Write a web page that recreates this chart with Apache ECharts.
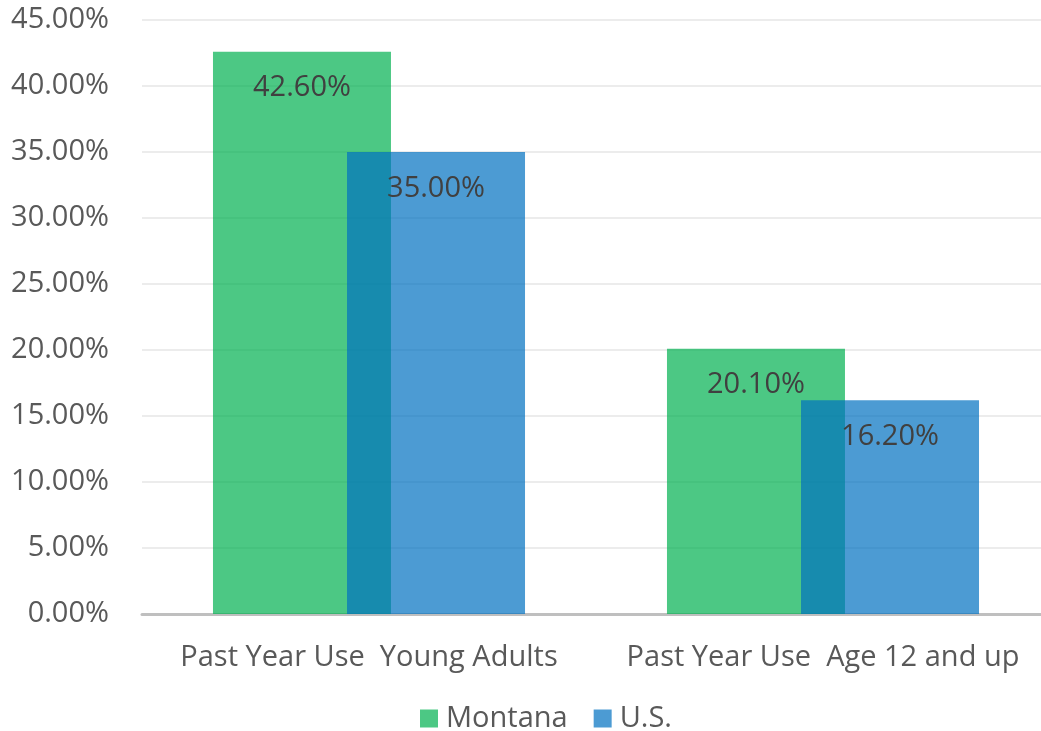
<!DOCTYPE html>
<html>
<head>
<meta charset="utf-8">
<script src="https://cdn.jsdelivr.net/npm/echarts@6/dist/echarts.min.js"></script>
<style>
html,body{margin:0;padding:0;background:#fff;overflow:hidden;}
#wrap{width:1041px;height:731px;overflow:hidden;}
#chart{width:1050px;height:731px;}
</style>
</head>
<body>
<div id="wrap"><div id="chart"></div></div>
<script>
const categories = ['Past Year Use  Young Adults', 'Past Year Use  Age 12 and up'];
const montana = [42.6, 20.1];
const us = [35.0, 16.2];
const seriesNames = ['Montana', 'U.S.'];

const FONT = 'Open Sans';
const FS = 29;
const chart = echarts.init(document.getElementById('chart'), null, {renderer: 'canvas'});
const labelStyle = {
  show: true,
  position: 'insideTop',
  distance: 22,
  color: '#404040',
  fontSize: FS,
  fontFamily: FONT,
  formatter: p => p.value.toFixed(2) + '%'
};
chart.setOption({
  animation: false,
  textStyle: {fontFamily: FONT},
  grid: {left: 142, top: 20, right: 0, height: 594, containLabel: false},
  legend: {
    data: seriesNames,
    top: 704,
    left: 420,
    padding: 0,
    itemWidth: 18,
    itemHeight: 18,
    itemGap: 26,
    icon: 'rect',
    textStyle: {fontSize: FS, color: '#595959', fontFamily: FONT, padding: [0, 0, 0, 3]}
  },
  xAxis: {
    type: 'category',
    data: categories,
    axisLine: {lineStyle: {color: '#bfbfbf', width: 3}},
    axisTick: {show: false},
    axisLabel: {interval: 0, fontSize: FS, color: '#595959', fontFamily: FONT, margin: 29}
  },
  yAxis: {
    type: 'value',
    min: 0,
    max: 45,
    interval: 5,
    axisLine: {show: false},
    axisTick: {show: false},
    splitLine: {lineStyle: {color: '#ececec', width: 2}},
    axisLabel: {fontSize: FS, color: '#595959', fontFamily: FONT, margin: 33,
      formatter: v => v.toFixed(2) + '%'}
  },
  series: [
    {
      name: seriesNames[0], type: 'bar', data: montana,
      barWidth: 178, barGap: '-24.7%',
      itemStyle: {color: 'rgba(0,176,80,0.7)'},
      label: labelStyle
    },
    {
      name: seriesNames[1], type: 'bar', data: us,
      barWidth: 178, barGap: '-24.7%',
      itemStyle: {color: 'rgba(0,112,192,0.7)'},
      label: labelStyle
    }
  ]
});
</script>
</body>
</html>
